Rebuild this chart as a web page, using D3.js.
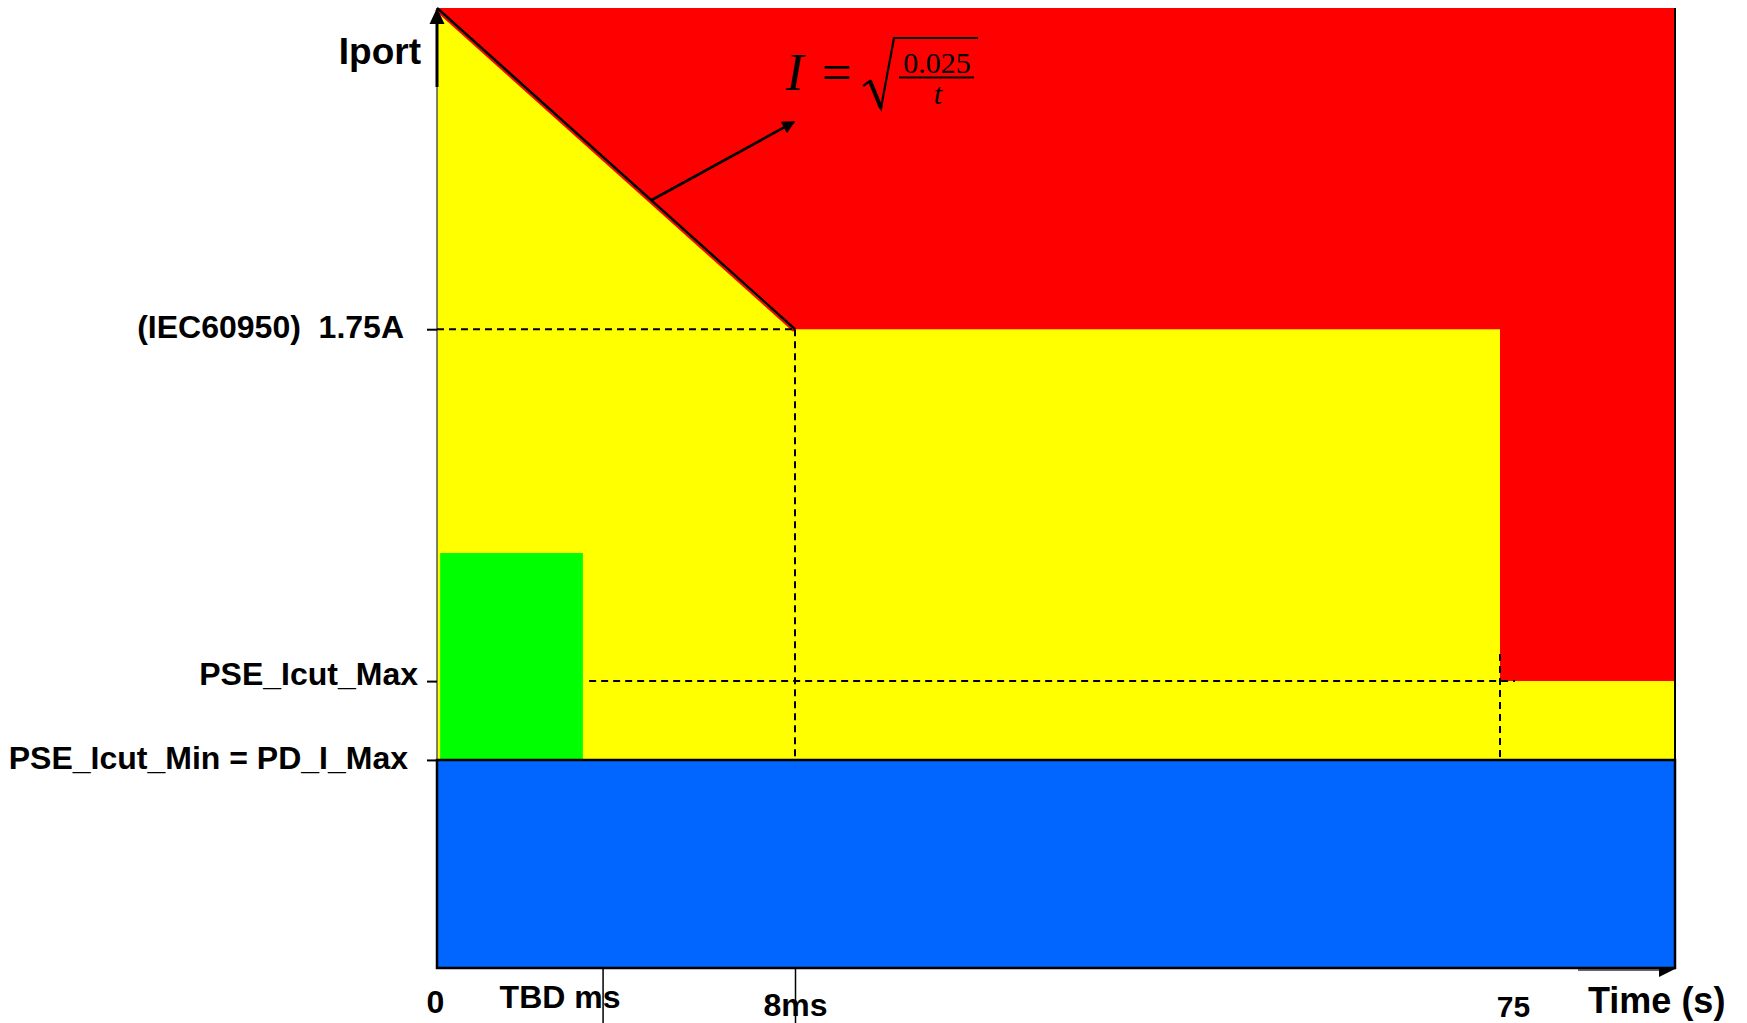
<!DOCTYPE html>
<html>
<head>
<meta charset="utf-8">
<script src="https://cdn.jsdelivr.net/npm/d3@7"></script>
<style>
  html, body { margin: 0; padding: 0; background: #fff; }
  svg { display: block; }
  text { white-space: pre; }
</style>
</head>
<body>
<svg id="chart" width="1747" height="1023"></svg>
<script>
// ---------------- data ----------------
// time in ms (schematic, piecewise axis)
const xTickValues = [0, 3.7, 8, 75000];
const xTickLabels = ["0", "TBD ms", "8ms", "75"];
const timeBreaks = [0, 8, 75000, 90000];           // axis breakpoints (ms)

// current levels in A (schematic)
const yTickValues = [0.57, 0.786, 1.75];
const yTickLabels = ["PSE_Icut_Min = PD_I_Max", "PSE_Icut_Max", "(IEC60950)  1.75A"];
const currentTop = 2.63;
const greenTop = 1.137;
const greenSpan = [0.07, 3.26];                    // ms

const IcutMin = yTickValues[0], IcutMax = yTickValues[1], Iiec = yTickValues[2];
const tEnd = timeBreaks[3], t8 = 8, t75 = 75000;

// region outlines as [time, current]
const yellowRegion = [[0, IcutMin], [0, currentTop], [tEnd, currentTop], [tEnd, IcutMin]];
const redRegion = [[0, currentTop], [tEnd, currentTop], [tEnd, IcutMax], [t75, IcutMax], [t75, Iiec], [t8, Iiec]];
const greenRegion = [[greenSpan[0], 0.57], [greenSpan[0], greenTop], [greenSpan[1], greenTop], [greenSpan[1], 0.57]];
const blueRegion = [[0, 0], [0, IcutMin], [tEnd, IcutMin], [tEnd, 0]];
const limitLine = [[0, currentTop], [t8, Iiec]];
const dashedLines = [
  [[0, Iiec], [t8, Iiec]],
  [[t8, Iiec], [t8, IcutMin]],
  [[3.4, IcutMax], [76286, IcutMax]],
  [[t75, 0.86], [t75, IcutMin]]
];
const formulaArrow = [[4.8, 2.104], [7.98, 2.318]];

// ---------------- scales ----------------
const svg = d3.select("#chart");
const x = d3.scaleLinear().domain(timeBreaks).range([437, 795, 1500, 1675]);
const y = d3.scaleLinear().domain([0, currentTop]).range([968, 8]);
const line = d3.line().x(d => x(d[0])).y(d => y(d[1]));
const poly = pts => line(pts) + "Z";

const FONT = "'Liberation Sans', Arial, sans-serif";
const SERIF = "'Liberation Serif', 'Times New Roman', serif";

// ---------------- regions ----------------
svg.append("path").attr("d", poly(yellowRegion)).attr("fill", "#FFFF00");
svg.append("path").attr("d", poly(redRegion)).attr("fill", "#FF0000");
svg.append("path").attr("d", poly(greenRegion)).attr("fill", "#00FF00");

// left axis thin line
svg.append("line").attr("x1", x(0)).attr("x2", x(0)).attr("y1", y(currentTop)).attr("y2", y(0))
  .attr("stroke", "#555").attr("stroke-width", 1.5);

svg.append("path").attr("d", poly(blueRegion)).attr("fill", "#0066FF")
  .attr("stroke", "#000").attr("stroke-width", 2.5);

// right border
svg.append("line").attr("x1", x(tEnd)).attr("x2", x(tEnd)).attr("y1", y(currentTop)).attr("y2", y(0))
  .attr("stroke", "#000").attr("stroke-width", 2);

// limit diagonal (thin red edge beneath the black line)
svg.append("path").attr("d", line(limitLine)).attr("fill", "none")
  .attr("transform", "translate(-1.2,1.8)")
  .attr("stroke", "#FF0000").attr("stroke-width", 2);
svg.append("path").attr("d", line(limitLine)).attr("fill", "none")
  .attr("stroke", "#000").attr("stroke-width", 2.5);

// dashed guides
dashedLines.forEach(seg => {
  svg.append("path").attr("d", line(seg)).attr("fill", "none")
    .attr("stroke", "#000").attr("stroke-width", 2).attr("stroke-dasharray", "7,5");
});

// ---------------- axes ----------------
const yAxis = d3.axisLeft(y).tickValues(yTickValues).tickSize(10)
  .tickFormat((d, i) => yTickLabels[i]);
const gy = svg.append("g").attr("transform", `translate(${x(0)},0)`).call(yAxis);
gy.select(".domain").remove();
gy.selectAll(".tick line").attr("stroke", "#000").attr("stroke-width", 2);
const yLabelDx = [-29, -19, -33];
const yLabelDy = [9, 3, 8];
gy.selectAll(".tick text")
  .attr("font-family", FONT).attr("font-weight", "bold").attr("font-size", 32)
  .attr("fill", "#000").attr("text-anchor", "end")
  .attr("dy", null)
  .attr("x", (d, i) => yLabelDx[i])
  .attr("y", (d, i) => yLabelDy[i]);

const xAxis = d3.axisBottom(x).tickValues(xTickValues).tickSize(55)
  .tickFormat((d, i) => xTickLabels[i]);
const gx = svg.append("g").attr("transform", `translate(0,${y(0)})`).call(xAxis);
gx.select(".domain").remove();
gx.selectAll(".tick line")
  .attr("stroke", "#000").attr("stroke-width", 1.5)
  .attr("display", (d, i) => (i === 1 || i === 2) ? null : "none");
const xLabelDx = [-2, -43, 0, 13];
const xLabelY = [45, 40, 48, 49];
gx.selectAll(".tick text")
  .attr("font-family", FONT).attr("font-weight", "bold")
  .attr("font-size", (d, i) => i === 3 ? 30 : 32)
  .attr("fill", "#000").attr("text-anchor", "middle")
  .attr("dy", null)
  .attr("x", (d, i) => xLabelDx[i])
  .attr("y", (d, i) => xLabelY[i]);

// y axis arrow (top)
svg.append("line").attr("x1", x(0)).attr("x2", x(0)).attr("y1", y(currentTop) + 14).attr("y2", 87)
  .attr("stroke", "#000").attr("stroke-width", 3);
svg.append("path")
  .attr("d", `M${x(0)},${y(currentTop)} L${x(0) - 7.5},${y(currentTop) + 16} L${x(0) + 7.5},${y(currentTop) + 16}Z`)
  .attr("fill", "#000");

// x axis arrow (bottom right)
svg.append("line").attr("x1", 1578).attr("x2", 1662).attr("y1", y(0) + 2).attr("y2", y(0) + 2)
  .attr("stroke", "#333").attr("stroke-width", 1.5);
svg.append("path")
  .attr("d", `M1659,${y(0) + 1} L${x(tEnd)},${y(0) + 1} L1659,${y(0) + 9}Z`)
  .attr("fill", "#000");

// axis titles
svg.append("text").attr("x", 421).attr("y", 64).attr("text-anchor", "end")
  .attr("font-family", FONT).attr("font-weight", "bold").attr("font-size", 37)
  .text("Iport");
svg.append("text").attr("x", 1588).attr("y", 1013)
  .attr("font-family", FONT).attr("font-weight", "bold").attr("font-size", 36)
  .text("Time (s)");

// ---------------- formula + arrow ----------------
svg.append("defs").append("marker")
  .attr("id", "ah").attr("viewBox", "0 0 10 10").attr("refX", 9).attr("refY", 5)
  .attr("markerWidth", 6).attr("markerHeight", 5).attr("markerUnits", "strokeWidth")
  .attr("orient", "auto")
  .append("path").attr("d", "M0,0 L10,5 L0,10Z").attr("fill", "#000");
svg.append("path").attr("d", line(formulaArrow)).attr("fill", "none")
  .attr("stroke", "#000").attr("stroke-width", 2.6).attr("marker-end", "url(#ah)");

const fg = svg.append("g");
fg.append("text").attr("x", 786).attr("y", 90)
  .attr("font-family", SERIF).attr("font-style", "italic").attr("font-size", 53).text("I");
fg.append("text").attr("x", 822).attr("y", 90)
  .attr("font-family", SERIF).attr("font-size", 53).text("=");
fg.append("path")
  .attr("d", "M863,86 L870,81 L881,108 L894,38 L978,38")
  .attr("fill", "none").attr("stroke", "#000").attr("stroke-width", 2.2).attr("stroke-linejoin", "miter");
fg.append("path")
  .attr("d", "M870,81 L881,108")
  .attr("fill", "none").attr("stroke", "#000").attr("stroke-width", 4);
fg.append("text").attr("x", 937).attr("y", 73).attr("text-anchor", "middle")
  .attr("font-family", SERIF).attr("font-size", 30).text("0.025");
fg.append("line").attr("x1", 899).attr("x2", 974).attr("y1", 77.5).attr("y2", 77.5)
  .attr("stroke", "#000").attr("stroke-width", 2);
fg.append("text").attr("x", 938).attr("y", 104).attr("text-anchor", "middle")
  .attr("font-family", SERIF).attr("font-style", "italic").attr("font-size", 30).text("t");
</script>
</body>
</html>
